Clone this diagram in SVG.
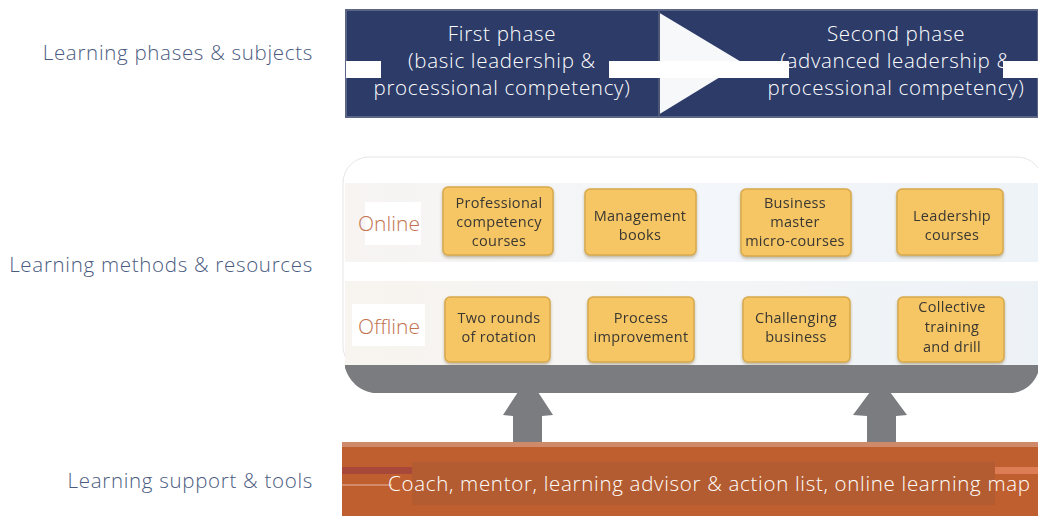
<svg xmlns="http://www.w3.org/2000/svg" width="1038" height="516" viewBox="0 0 1038 516">
  <style>
    .side { font-family: "Open Sans", "Noto Sans", sans-serif; font-size: 20.5px; font-weight: 300; letter-spacing: 0.7px; fill: #4a5b80; text-anchor: end; }
    .phase { font-family: "Open Sans", "Noto Sans", sans-serif; font-size: 20.5px; font-weight: 300; letter-spacing: 0.7px; fill: #ffffff; text-anchor: middle; }
    .mode { font-family: "Open Sans", "Noto Sans", sans-serif; font-size: 21px; font-weight: 300; fill: #c2724f; text-anchor: middle; }
    .card { fill: #f5c663; stroke: #d8a94c; stroke-width: 1.5; }
    .cardtxt { font-family: "Open Sans", "Noto Sans", sans-serif; font-size: 14.5px; letter-spacing: 0.3px; fill: #3a3733; text-anchor: middle; }
    .support { font-family: "Open Sans", "Noto Sans", sans-serif; font-size: 20.5px; font-weight: 300; letter-spacing: 0.7px; fill: #ffffff; }
    .mask { fill: #ffffff; }
    .gray { fill: #7b7c80; }
  </style>
  <defs>
    <linearGradient id="bandOnline" x1="0" y1="0" x2="1" y2="0">
      <stop offset="0" stop-color="#f7f4f2"/>
      <stop offset="0.5" stop-color="#f3f6fa"/>
      <stop offset="1" stop-color="#eef3f8"/>
    </linearGradient>
    <linearGradient id="bandOffline" x1="0" y1="0" x2="1" y2="0">
      <stop offset="0" stop-color="#f8f4ef"/>
      <stop offset="0.5" stop-color="#f4f5f6"/>
      <stop offset="1" stop-color="#edf2f7"/>
    </linearGradient>
    <filter id="cardShadow" x="-10%" y="-10%" width="120%" height="125%">
      <feDropShadow dx="0" dy="2" stdDeviation="1.5" flood-color="#8a7a50" flood-opacity="0.5"/>
    </filter>
  </defs>

  <!-- row captions -->
  <g id="captions">
    <text class="side" x="313" y="60">Learning phases &amp; subjects</text>
    <text class="side" x="313" y="272">Learning methods &amp; resources</text>
    <text class="side" x="313" y="488">Learning support &amp; tools</text>
  </g>

  <!-- phase banner -->
  <g id="phases">
    <rect x="346" y="10" width="692" height="107" fill="#2d3b69" stroke="#5b6585" stroke-width="2"/>
    <polygon points="658,12 743,63 658,115" fill="#f7f8fa"/>
    <line x1="659" y1="11" x2="659" y2="116" stroke="#4c5676" stroke-width="2"/>
    <text class="phase" x="502" y="41">First phase</text>
    <text class="phase" x="502" y="68">(basic leadership &amp;</text>
    <text class="phase" x="502" y="95">processional competency)</text>
    <text class="phase" x="896" y="41">Second phase</text>
    <text class="phase" x="896" y="68">(advanced leadership &amp;</text>
    <text class="phase" x="896" y="95">processional competency)</text>
    <rect class="mask" x="346" y="61" width="35" height="17"/>
    <rect class="mask" x="609" y="61" width="180" height="17"/>
    <rect class="mask" x="1003" y="61" width="35" height="17"/>
  </g>

  <!-- methods panel -->
  <g id="methods">
    <rect x="343" y="157" width="700" height="215" rx="26" fill="#ffffff" stroke="#e6e6e6" stroke-width="1"/>
    <rect x="345" y="183" width="693" height="79" fill="url(#bandOnline)"/>
    <rect x="345" y="281" width="693" height="84" fill="url(#bandOffline)"/>
    <rect x="365" y="202" width="56" height="43" fill="#ffffff"/>
    <text class="mode" x="389" y="231">Online</text>
    <rect x="352" y="304" width="73" height="42" fill="#ffffff"/>
    <text class="mode" x="389" y="334">Offline</text>
  </g>

  <g id="online-1" filter="url(#cardShadow)">
    <rect class="card" x="443" y="187" width="110" height="68" rx="5"/>
    <text class="cardtxt" x="499" y="208">Professional</text>
    <text class="cardtxt" x="499" y="227">competency</text>
    <text class="cardtxt" x="499" y="246">courses</text>
  </g>
  <g id="online-2" filter="url(#cardShadow)">
    <rect class="card" x="585" y="189" width="111" height="66" rx="5"/>
    <text class="cardtxt" x="640" y="221">Management</text>
    <text class="cardtxt" x="640" y="240">books</text>
  </g>
  <g id="online-3" filter="url(#cardShadow)">
    <rect class="card" x="741" y="189" width="110" height="67" rx="5"/>
    <text class="cardtxt" x="795" y="208">Business</text>
    <text class="cardtxt" x="795" y="227">master</text>
    <text class="cardtxt" x="795" y="246">micro-courses</text>
  </g>
  <g id="online-4" filter="url(#cardShadow)">
    <rect class="card" x="897" y="189" width="106" height="66" rx="5"/>
    <text class="cardtxt" x="952" y="221">Leadership</text>
    <text class="cardtxt" x="952" y="240">courses</text>
  </g>

  <g id="offline-1" filter="url(#cardShadow)">
    <rect class="card" x="445" y="297" width="105" height="65" rx="5"/>
    <text class="cardtxt" x="499" y="323">Two rounds</text>
    <text class="cardtxt" x="499" y="342">of rotation</text>
  </g>
  <g id="offline-2" filter="url(#cardShadow)">
    <rect class="card" x="588" y="297" width="106" height="65" rx="5"/>
    <text class="cardtxt" x="641" y="323">Process</text>
    <text class="cardtxt" x="641" y="342">improvement</text>
  </g>
  <g id="offline-3" filter="url(#cardShadow)">
    <rect class="card" x="743" y="297" width="107" height="65" rx="5"/>
    <text class="cardtxt" x="796" y="323">Challenging</text>
    <text class="cardtxt" x="796" y="342">business</text>
  </g>
  <g id="offline-4" filter="url(#cardShadow)">
    <rect class="card" x="898" y="297" width="106" height="65" rx="5"/>
    <text class="cardtxt" x="952" y="312">Collective</text>
    <text class="cardtxt" x="952" y="332">training</text>
    <text class="cardtxt" x="952" y="352">and drill</text>
  </g>

  <!-- supporting platform -->
  <g id="platform">
    <path class="gray" d="M345,365 L1038,365 L1038,373 Q1031,390 1013,393 L373,393 Q352,389 345,368 Z"/>
  </g>

  <!-- upward arrows -->
  <g id="connectors">
    <path class="gray" d="M518,392 L503,415 L513,416 L513,444 L542,444 L542,416 L553,415 L538,392 Z"/>
    <path class="gray" d="M870,392 L853,415 L867,416 L867,444 L896,444 L896,416 L907,415 L890,392 Z"/>
  </g>

  <!-- support bar -->
  <g id="support">
    <rect x="342" y="442" width="696" height="74" fill="#bf5e2f"/>
    <rect x="342" y="442" width="696" height="5" fill="#cf8a6a"/>
    <rect x="412" y="462" width="583" height="43" fill="#b35c31"/>
    <rect x="342" y="467" width="70" height="7" fill="#a8483a"/>
    <rect x="995" y="467" width="43" height="7" fill="#dd7d55"/>
    <line x1="342" y1="485" x2="392" y2="485" stroke="#e6b8a4" stroke-width="1"/>
    <text class="support" x="388" y="491">Coach, mentor, learning advisor &amp; action list, online learning map</text>
  </g>
</svg>
